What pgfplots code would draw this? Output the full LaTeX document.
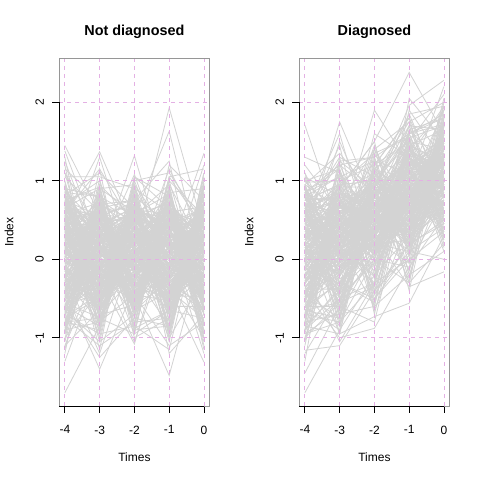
\documentclass[border=0pt]{standalone}
\usepackage{fontspec}
\setmainfont{Liberation Sans}
\usepackage{pgfplots}
\usepackage{pgfplotstable}
\pgfplotsset{compat=1.18}
\definecolor{gridc}{RGB}{228,176,228}
\definecolor{boxc}{RGB}{150,150,150}
\definecolor{linec}{RGB}{211,211,211}

\pgfplotstableread[header=false]{
0.12 -0.35 0.41 -0.08 0.27
-0.44 0.18 -0.22 0.53 -0.10
0.65 0.02 0.31 -0.40 0.48
-0.15 -0.62 0.07 0.22 -0.33
0.33 0.47 -0.51 0.05 0.71
-0.71 0.25 0.14 -0.28 -0.05
0.08 -0.12 0.66 0.38 -0.54
0.52 -0.41 -0.19 0.74 0.16
-0.27 0.61 0.28 -0.63 0.39
0.21 0.09 -0.44 0.17 -0.22
-0.58 -0.23 0.52 0.01 0.60
0.79 0.36 -0.07 -0.14 -0.41
-0.09 -0.77 0.19 0.46 0.08
0.43 0.54 0.73 -0.35 0.25
-0.36 0.11 -0.61 0.29 -0.69
0.17 -0.48 0.03 0.62 0.44
0.58 0.72 0.37 -0.52 -0.17
-0.80 -0.05 -0.30 0.11 0.32
0.26 0.29 0.58 0.83 -0.28
-0.03 -0.33 -0.12 -0.21 0.55
0.91 0.14 0.21 0.35 0.03
-0.49 0.68 -0.38 -0.46 -0.48
0.38 -0.17 0.48 0.13 0.76
0.04 -0.55 -0.02 -0.70 0.19
-0.62 0.40 0.61 0.52 -0.36
0.71 -0.29 -0.25 0.27 0.41
-0.20 0.83 0.12 -0.09 -0.12
0.48 -0.09 -0.73 0.60 0.67
-0.33 0.22 0.44 -0.32 -0.58
0.15 -0.68 0.27 0.41 0.10
1.45 0.57 -0.14 0.06 0.29
-1.70 -0.85 0.09 -0.44 -0.25
0.55 1.37 0.35 0.19 -0.07
-0.41 -1.40 -0.36 0.31 0.22
0.29 0.05 1.32 -0.18 0.50
0.07 -0.24 -1.08 0.47 -0.30
-0.11 0.48 0.16 1.93 0.37
0.36 -0.37 0.55 1.63 -0.15
0.62 0.13 -0.47 -1.48 0.14
-0.25 0.31 0.23 0.08 1.35
0.19 -0.46 0.04 -0.37 -1.31
1.38 0.20 0.62 -0.25 0.06
-1.30 -0.10 -0.52 0.58 -0.44
1.25 0.10 1.08 -0.15 1.20
-1.10 -0.05 -1.05 0.20 -1.20
0.05 1.30 -0.10 1.15 0.30
-0.20 -1.20 0.15 -1.00 -0.25
0.95 -0.15 0.78 -0.60 0.85
-0.87 0.66 -0.81 0.70 -0.79
0.46 -0.82 0.86 -0.77 0.90
0.24 0.19 -0.56 -0.11 0.58
-0.52 -0.14 0.34 0.57 -0.03
0.11 0.63 -0.10 -0.26 -0.63
0.67 -0.31 0.70 0.33 0.28
-0.06 0.37 -0.28 -0.54 0.13
0.40 -0.58 0.17 0.79 -0.39
-0.39 0.08 0.51 0.04 0.46
0.03 0.55 -0.65 -0.41 -0.20
0.57 -0.20 0.24 0.48 0.64
-0.74 -0.43 -0.06 -0.16 0.05
0.30 0.76 0.45 0.66 -0.50
-0.18 0.03 -0.33 -0.04 0.35
0.81 -0.61 0.10 0.21 -0.11
-0.30 0.42 0.67 -0.67 0.73
0.14 -0.11 -0.42 0.39 -0.27
0.49 0.27 0.29 -0.23 0.18
-0.56 -0.74 0.06 0.55 -0.45
0.22 0.50 -0.18 0.14 0.52
-0.12 -0.26 0.59 -0.49 0.00
0.63 0.16 -0.54 0.29 -0.62
-0.45 0.59 0.20 0.71 0.24
0.09 -0.39 0.39 -0.06 0.61
0.74 0.00 -0.23 -0.30 -0.34
-0.23 -0.52 0.80 0.45 0.15
0.35 0.34 -0.04 -0.59 -0.08
-0.67 -0.07 0.47 0.18 0.43
0.18 0.70 -0.63 0.51 -0.52
0.54 -0.28 0.13 -0.12 0.33
-0.01 0.23 0.32 0.37 -0.16
-0.34 -0.64 -0.15 -0.43 0.69
0.45 0.44 0.57 0.02 0.09
-0.60 0.12 -0.09 0.63 -0.37
0.27 -0.15 0.42 -0.27 0.56
0.69 0.51 -0.35 0.23 -0.23
-0.14 -0.34 0.08 -0.51 0.26
0.01 0.64 0.64 0.40 -0.60
0.39 -0.49 -0.21 0.09 0.40
-0.47 0.20 0.36 -0.34 0.11
0.60 -0.03 -0.49 0.67 -0.04
-0.08 0.39 0.25 -0.19 0.49
0.16 -0.71 -0.58 0.26 -0.29
-0.70 0.15 0.15 -0.63 0.21
0.50 0.58 0.50 0.44 0.63
-0.26 -0.19 -0.27 0.12 -0.42
0.32 0.32 0.01 -0.45 0.30
0.86 -0.44 0.69 0.32 -0.09
-0.38 0.49 -0.40 -0.08 0.57
0.06 -0.08 0.22 0.58 -0.55
0.42 0.26 -0.67 -0.22 0.17
-0.19 -0.57 0.33 0.16 0.38
-0.90 0.07 0.49 -0.39 -0.18
0.23 0.78 -0.31 0.74 0.04
0.61 -0.25 0.05 -0.57 0.45
-0.53 0.35 0.60 0.20 -0.67
0.13 -0.36 -0.16 0.50 0.20
0.76 0.10 0.38 -0.14 0.62
-0.28 -0.79 -0.45 0.34 -0.14
0.37 0.45 0.18 -0.62 0.32
-0.04 -0.13 0.75 0.10 -0.46
0.51 0.62 -0.08 -0.29 0.12
-0.64 -0.30 0.26 0.59 0.47
0.20 0.21 -0.57 0.03 -0.33
-0.16 0.53 0.46 -0.40 0.07
0.44 -0.54 -0.03 0.43 -0.21
0.02 0.04 0.30 -0.05 0.66
-0.43 0.67 -0.37 0.28 -0.06
0.68 -0.18 0.54 -0.25 0.27
-0.10 0.30 -0.11 0.69 -0.40
0.28 -0.40 0.11 -0.53 0.53
-0.78 0.00 0.71 0.15 0.02
0.98 -0.30 0.20 0.85 -0.45
-0.95 0.88 -0.20 -0.85 0.80
0.20 -0.92 0.95 0.30 -0.90
-0.30 0.20 -0.95 0.95 0.10
0.10 -0.10 0.30 -0.95 0.97
1.05 0.60 -0.70 0.40 -0.80
-1.02 0.95 0.50 -0.70 0.60
0.40 -1.00 0.90 0.60 -1.00
0.70 0.30 -0.85 1.05 0.40
-0.60 0.80 0.55 -1.05 0.92
1.10 -0.50 0.00 0.20 -0.70
-0.85 1.02 -0.60 0.45 0.20
0.30 -0.85 0.85 -0.80 1.05
0.88 0.40 -0.30 0.88 -0.95
-0.70 -0.95 1.00 -0.10 0.30
-0.22 0.41 -0.05 0.36 -0.19
0.47 -0.06 0.29 -0.48 0.35
-0.05 0.26 -0.47 0.12 0.44
0.34 -0.44 0.56 -0.20 -0.26
-0.61 0.06 0.11 0.49 0.15
0.25 0.49 -0.24 -0.07 -0.48
0.72 -0.21 0.40 0.30 0.09
-0.31 -0.60 -0.08 -0.38 0.58
0.10 0.33 0.63 0.58 -0.31
0.56 0.07 -0.36 -0.16 0.21
-0.46 -0.30 0.23 0.24 -0.13
0.18 0.65 0.02 -0.55 0.50
-0.13 -0.16 0.49 0.41 -0.56
0.64 0.17 -0.60 0.07 0.28
0.00 -0.49 0.15 -0.28 0.07
-0.68 0.52 0.32 0.63 -0.35
0.31 -0.02 -0.15 -0.11 0.62
0.83 -0.35 0.61 0.19 -0.02
-0.24 0.24 -0.29 -0.44 0.39
0.41 -0.67 0.09 0.52 0.17
-0.10 0.38 0.44 -0.02 -0.44
0.53 0.01 -0.52 0.35 0.49
-0.40 -0.10 0.06 -0.60 -0.21
0.16 0.58 0.68 0.15 0.31
-0.57 -0.45 -0.20 0.45 0.13
0.27 0.12 0.36 -0.34 -0.65
0.69 0.46 -0.10 0.28 0.42
-0.16 -0.27 0.25 0.68 -0.08
0.05 0.71 -0.41 -0.17 0.56
0.48 -0.52 0.53 0.04 -0.27
-0.35 0.16 -0.66 0.39 0.24
0.22 -0.13 0.12 -0.47 0.04
-0.73 0.34 0.47 0.21 0.60
0.37 -0.38 -0.26 0.55 -0.38
0.78 0.27 0.19 -0.29 0.18
-0.07 -0.58 0.71 0.10 -0.50
0.12 0.44 -0.14 0.46 0.35
-0.50 0.02 0.33 -0.08 -0.17
0.59 0.61 -0.45 -0.53 0.67
-0.19 -0.22 0.04 0.32 0.00
0.43 0.19 0.57 0.71 -0.43
-0.28 0.75 -0.18 -0.36 0.27
0.04 -0.32 0.39 0.18 0.46
0.66 -0.04 -0.31 -0.14 -0.10
-0.63 0.29 0.21 0.54 0.12
0.21 -0.63 0.67 -0.24 0.52
-0.02 0.53 -0.53 0.27 -0.59
0.50 -0.12 0.14 0.63 0.21
-0.37 -0.40 0.42 -0.42 0.38
0.14 0.37 -0.02 0.09 -0.24
0.74 0.08 0.28 -0.58 0.07
-0.44 0.63 -0.38 0.37 0.55
0.29 -0.26 0.52 0.02 -0.33
-0.12 0.14 0.00 -0.23 0.19
0.35 -0.70 -0.23 0.48 0.41
-0.82 0.20 0.55 -0.12 -0.05
0.60 0.47 0.09 0.22 0.63
-0.20 -0.09 -0.48 0.66 -0.40
0.08 0.31 0.35 -0.39 0.25
0.45 -0.45 0.63 0.13 -0.15
-0.54 0.56 -0.11 -0.06 0.48
0.19 0.04 0.18 0.57 -0.62
0.62 -0.18 -0.58 -0.31 0.10
-0.27 -0.53 0.30 0.42 0.32
0.02 0.69 0.50 0.00 -0.29
0.38 -0.31 -0.19 -0.50 0.57
-0.48 0.10 0.59 0.30 0.03
0.70 0.40 -0.34 0.06 -0.47
-0.09 -0.66 0.10 0.61 0.34
0.26 0.24 0.45 -0.20 0.14
-0.66 -0.15 -0.04 0.25 -0.22
0.53 0.60 0.24 -0.45 0.59
-0.14 -0.01 -0.62 0.50 0.06
0.32 -0.47 0.41 0.08 -0.36
0.87 0.22 0.06 -0.27 0.44
-0.41 0.46 0.65 0.44 -0.11
0.09 -0.24 -0.28 -0.63 0.28
0.46 0.13 0.20 0.34 0.70
-0.32 -0.56 0.52 -0.10 -0.53
0.17 0.50 -0.44 0.72 0.23
0.58 -0.08 0.37 -0.35 -0.07
-0.59 0.28 -0.14 0.14 0.50
0.24 -0.36 0.58 0.47 -0.26
-0.05 0.66 -0.30 -0.52 0.16
0.40 0.03 0.13 0.26 0.64
-0.75 -0.49 0.26 -0.15 -0.41
0.65 0.35 -0.55 0.59 0.11
-0.18 -0.20 0.70 0.05 0.37
0.11 0.57 -0.07 -0.41 -0.16
0.51 -0.59 0.31 0.39 0.53
-0.92 0.85 -0.75 0.80 -0.65
0.93 -0.88 0.82 -0.90 0.75
-0.80 -0.90 0.90 0.15 -0.95
0.75 0.92 -0.88 -0.65 0.85
0.60 -0.75 -0.95 0.90 -0.85
-0.95 0.70 0.75 -0.92 0.65
1.00 -0.65 0.30 0.70 -1.10
-1.05 0.55 -0.80 -0.75 0.95
0.82 1.10 0.65 -0.40 -0.75
-0.65 -1.05 -0.70 0.85 0.90
1.15 0.75 -0.40 1.00 0.55
-0.90 -0.80 0.95 -1.20 -0.70
0.55 -1.15 1.05 0.80 -0.85
0.85 0.80 -0.90 -0.85 1.10
-1.20 0.90 0.60 -0.30 -1.00
0.95 -0.70 0.60 -0.85 0.70
-0.85 0.75 -0.70 0.90 -0.60
0.70 1.00 -0.55 0.55 -0.90
-0.60 -0.85 0.80 -0.70 0.95
1.10 0.35 -0.85 1.00 -0.50
-1.00 -0.40 0.95 -0.55 0.80
0.60 1.15 0.40 -0.90 1.10
-0.75 -1.10 -0.80 0.70 -1.05
0.85 -0.60 1.00 1.10 0.45
-0.95 0.85 -0.45 -1.10 -0.80
1.20 -0.90 0.70 -0.50 0.90
-0.65 0.95 -0.90 0.85 -1.15
0.50 -1.05 0.85 -0.95 0.60
-1.15 0.65 0.75 1.25 -0.70
0.90 0.80 -1.00 -0.75 1.00
-0.80 -0.75 0.55 0.95 -0.95
1.05 1.05 0.90 -0.60 -0.60
-0.55 -1.25 -0.75 -0.85 0.85
0.75 0.55 -0.65 1.20 0.75
-1.10 -0.65 1.05 0.65 -0.85
0.65 0.90 0.95 -1.00 0.95
-0.90 1.15 -0.95 -0.65 -0.75
1.30 -0.80 0.50 0.75 -1.00
-0.70 0.70 -0.60 1.05 1.15
0.80 -0.95 -0.85 -1.15 0.65
}\Lrows

\pgfplotstableread[header=false]{
0.20 0.45 0.30 0.95 1.10
-0.30 0.10 0.62 0.55 1.35
0.55 0.28 0.80 1.05 0.82
0.05 -0.20 0.35 0.40 1.20
0.42 0.70 0.15 0.88 0.65
-0.48 0.35 0.52 1.20 1.05
0.30 -0.05 0.90 0.62 1.48
0.68 0.55 0.22 0.35 0.90
-0.15 0.20 0.48 0.98 0.72
0.12 0.62 0.05 0.70 1.28
0.80 0.15 0.68 1.32 1.15
-0.05 -0.38 0.40 0.50 0.58
0.38 0.48 1.02 0.85 1.40
-0.62 0.05 0.18 0.25 0.95
0.25 0.85 0.58 1.10 0.78
0.48 0.00 -0.10 0.75 1.62
-0.22 0.40 0.75 0.42 0.88
0.62 0.75 0.32 1.45 1.25
0.08 -0.12 0.60 0.18 0.50
-0.38 0.30 0.10 0.90 1.02
0.72 0.58 0.88 0.60 1.55
0.15 0.22 0.28 1.25 0.68
-0.10 -0.48 -0.05 0.55 1.12
0.45 0.92 0.70 0.30 0.85
0.00 0.12 0.45 1.00 1.38
0.90 0.38 0.15 0.80 0.92
-0.55 -0.22 0.65 0.68 0.40
0.35 0.65 0.95 1.55 1.70
0.18 0.08 0.38 0.12 0.98
-0.28 0.50 0.20 0.92 1.18
1.71 0.40 0.60 0.70 1.00
-1.45 -0.60 0.10 0.45 0.80
-1.70 -0.90 -0.20 0.30 0.60
-1.16 -1.10 -0.40 0.20 0.95
0.30 1.75 0.70 1.10 1.20
0.10 1.50 0.50 0.60 1.40
-0.40 -1.00 -0.88 -0.10 0.55
0.50 0.40 1.90 1.20 1.50
0.20 -0.95 -0.73 -0.56 0.30
0.60 0.90 1.50 2.38 1.60
0.00 0.30 0.90 1.96 2.28
-0.30 0.20 0.30 -0.35 -0.16
0.40 0.10 1.40 1.75 2.00
-0.60 -0.30 -0.50 0.10 0.00
0.95 1.35 0.80 1.30 1.95
-0.80 -0.70 -0.60 -0.20 0.10
0.85 1.20 1.30 1.60 1.85
-0.90 -0.50 0.00 -0.30 0.20
0.98 1.00 1.20 1.50 2.10
-0.70 -0.80 -0.30 0.00 0.35
0.28 0.52 0.55 0.58 1.08
-0.18 0.18 0.85 1.15 0.62
0.60 -0.08 0.25 0.78 1.32
0.02 0.70 0.42 0.38 0.76
-0.42 0.25 0.02 1.02 1.45
0.50 0.44 0.78 0.48 0.88
0.10 -0.30 0.35 1.30 1.00
0.75 0.80 0.50 0.65 1.58
-0.25 0.00 0.72 0.22 0.70
0.32 0.35 -0.15 0.85 1.22
-0.08 0.60 0.60 1.10 0.55
0.55 0.10 0.98 0.52 1.10
-0.50 -0.15 0.30 0.72 1.30
0.22 0.78 0.12 1.38 0.95
0.65 0.25 0.55 0.28 1.75
-0.12 0.42 0.82 0.95 0.80
0.40 -0.25 0.08 0.60 1.15
0.05 0.55 0.62 1.20 0.45
-0.35 0.15 0.40 0.45 1.05
0.82 0.65 0.92 0.82 1.42
0.15 -0.10 0.20 1.05 0.90
-0.20 0.32 0.48 0.35 1.25
0.48 0.90 0.35 0.90 0.60
0.00 0.05 1.10 0.70 1.50
0.35 0.45 0.00 1.28 0.98
-0.45 0.68 0.58 0.15 1.18
0.58 0.20 0.70 0.98 0.70
0.10 -0.40 0.45 0.62 1.60
-0.28 0.38 0.28 1.42 0.85
0.70 0.58 0.85 0.40 1.30
0.20 0.15 -0.22 0.88 1.08
-0.05 0.82 0.68 0.58 0.50
0.45 0.28 0.38 1.18 1.35
-0.60 -0.05 0.52 0.80 0.88
0.30 0.50 1.05 0.32 1.12
0.88 0.02 0.18 1.00 1.50
-0.15 0.62 0.62 0.68 0.75
0.15 0.30 0.30 1.35 1.02
0.52 -0.18 0.80 0.55 1.68
-0.32 0.45 0.10 0.92 0.92
0.08 0.72 0.50 0.22 1.28
0.62 0.10 0.95 1.12 0.68
-0.02 -0.32 0.25 0.75 1.22
0.40 0.60 0.65 1.50 0.95
-0.52 0.22 0.40 0.48 1.40
0.25 0.85 0.05 0.85 1.05
0.70 0.35 0.75 0.62 0.82
-0.18 -0.02 0.55 1.22 1.55
0.38 0.48 0.22 0.38 1.00
0.02 0.18 0.88 0.95 0.62
0.95 0.65 0.60 1.15 1.45
-0.68 0.40 0.15 0.65 1.15
0.18 -0.55 0.48 0.85 0.72
0.58 0.95 1.00 0.25 1.30
-0.25 0.12 -0.30 1.08 0.88
0.32 0.58 0.70 0.50 1.78
0.00 0.25 0.35 1.40 1.10
-0.40 -0.20 0.80 0.72 0.58
0.78 0.75 0.20 0.92 1.25
0.12 0.00 0.58 0.05 0.95
1.00 0.55 1.25 1.10 1.60
-0.85 -0.40 0.05 0.50 0.65
0.20 1.10 0.40 1.65 1.20
-0.45 -0.75 0.60 0.30 1.45
0.65 0.20 1.15 0.85 0.40
-1.00 0.30 -0.35 0.80 1.30
0.90 -0.40 0.80 1.40 1.90
-0.75 0.75 0.25 -0.05 0.75
0.40 -0.60 1.35 0.60 1.55
-0.95 0.60 -0.45 1.20 0.30
0.85 1.05 0.20 0.10 1.80
-0.65 -0.55 1.20 1.80 0.90
0.75 0.95 -0.55 0.95 0.25
-0.35 -0.85 0.70 1.70 1.65
0.55 1.25 0.90 -0.15 1.40
0.92 0.20 -0.60 1.35 0.45
-0.80 0.85 1.10 0.40 1.95
0.30 -0.70 0.10 1.55 0.20
-0.55 1.00 0.65 1.60 1.72
0.68 -0.45 1.00 0.20 1.85
0.35 0.20 0.60 0.75 1.25
-0.20 0.48 0.30 1.05 0.88
0.58 0.05 0.72 0.48 1.42
0.10 0.62 0.10 0.92 0.70
-0.40 -0.12 0.55 0.58 1.15
0.45 0.40 0.85 1.25 0.95
0.02 0.75 0.22 0.40 1.30
0.70 -0.22 0.45 1.00 1.05
-0.15 0.30 1.00 0.65 0.62
0.28 0.55 0.05 1.18 1.48
-0.58 0.12 0.40 0.80 1.00
0.52 0.68 0.62 0.30 0.80
0.12 -0.35 0.25 1.35 1.20
-0.30 0.38 0.78 0.70 1.62
0.65 0.85 0.35 0.55 0.92
0.22 0.08 -0.05 0.98 1.10
-0.08 0.50 0.95 0.25 0.75
0.40 -0.08 0.50 1.15 1.38
-0.48 0.70 0.18 0.85 1.05
0.78 0.30 0.68 0.60 0.58
0.05 -0.45 0.38 0.45 1.28
0.30 0.92 0.92 1.42 0.98
-0.22 0.18 0.12 0.68 1.52
0.55 0.48 0.58 0.92 0.68
-0.65 -0.28 0.28 1.10 1.18
0.18 0.60 1.08 0.35 0.85
0.85 0.10 0.20 0.78 1.35
-0.10 0.80 0.48 1.28 1.00
0.38 -0.15 0.70 0.52 1.65
0.00 0.42 0.00 0.95 0.82
-0.35 0.02 0.65 0.72 1.22
0.62 0.72 0.42 1.05 1.08
0.15 0.25 0.88 0.18 0.72
-0.52 0.55 0.32 0.90 1.45
0.48 -0.30 0.15 1.22 0.92
0.25 0.35 0.75 0.62 1.30
-0.05 0.88 0.55 0.42 1.12
0.72 0.15 -0.08 0.98 0.78
-0.28 -0.05 0.45 1.50 1.40
0.42 0.65 0.98 0.75 0.95
0.08 0.22 0.30 0.32 1.58
-0.45 0.45 0.68 1.12 0.65
0.60 -0.50 0.40 0.85 1.20
-0.12 0.58 0.10 0.55 1.02
0.32 0.10 0.82 1.30 0.88
0.75 0.78 0.25 0.70 1.48
-0.62 0.28 0.58 0.48 0.98
0.20 -0.20 0.35 1.02 1.25
0.50 0.52 1.12 0.88 0.72
-0.18 0.00 0.20 0.60 1.35
0.88 0.40 0.62 1.38 1.15
0.00 0.95 0.40 0.28 0.92
-0.38 -0.38 0.90 0.82 1.60
0.45 0.32 0.08 1.08 1.05
0.12 0.68 0.52 0.50 0.60
-0.70 0.15 -0.20 0.95 1.28
0.68 -0.10 0.78 0.65 1.42
-0.02 0.50 0.35 1.25 0.80
0.30 0.20 0.60 0.38 1.18
-0.25 0.75 0.95 0.80 1.52
0.58 0.05 0.28 1.18 0.95
0.15 -0.42 0.72 0.58 1.08
-0.55 0.40 0.45 1.00 1.32
0.40 0.62 0.15 0.72 0.68
0.05 0.28 1.05 1.45 1.22
0.80 -0.02 0.50 0.45 1.70
-0.32 0.55 0.22 0.90 0.98
0.25 0.85 0.68 1.15 1.10
-0.08 -0.15 0.38 0.35 0.85
0.52 0.42 0.85 0.98 1.45
1.20 0.60 0.95 1.20 1.50
-1.20 -0.45 0.20 0.60 1.10
1.05 -0.20 0.40 1.60 0.60
-1.05 0.75 -0.65 0.50 1.70
0.90 -0.75 1.25 0.05 1.35
-0.85 1.20 0.30 1.50 0.30
0.70 -0.95 0.85 -0.30 1.75
-0.75 1.30 -0.70 1.10 0.50
1.10 0.20 1.45 0.30 2.05
-0.95 -0.65 0.90 1.85 0.80
0.50 1.45 -0.40 0.90 1.90
-0.60 -0.90 1.30 -0.40 1.60
0.95 0.00 1.60 1.30 0.10
-1.30 1.10 0.00 1.90 1.25
0.80 -0.60 -0.80 1.00 2.20
-0.50 0.90 1.50 -0.20 1.00
1.30 1.10 0.50 1.70 0.55
-0.90 -0.35 1.40 0.70 1.95
0.60 1.60 0.10 1.45 0.15
-0.20 -1.05 -0.30 2.05 1.50
0.95 -0.40 1.15 0.10 1.70
-0.75 1.00 -0.25 1.45 0.45
0.85 -0.65 0.95 1.60 0.35
-0.90 0.95 -0.40 0.05 1.75
1.00 1.15 -0.10 1.50 0.40
-0.65 -0.75 1.20 -0.05 1.60
0.80 1.05 1.25 0.15 1.85
-1.00 -0.55 -0.35 1.40 0.50
0.90 -0.70 1.10 1.75 0.60
-0.80 1.10 -0.45 0.20 1.90
0.75 0.95 1.35 1.55 0.25
-0.95 -0.80 0.00 -0.10 1.50
1.10 -0.30 -0.55 1.65 1.80
-0.70 1.25 1.30 0.10 0.40
0.70 -0.85 0.90 1.85 1.95
-1.10 0.90 -0.60 1.30 0.55
0.60 1.30 1.05 -0.25 1.70
-0.85 -0.95 1.15 1.50 0.35
1.05 0.80 -0.50 0.00 2.00
-0.60 -0.60 0.95 1.70 0.50
0.85 1.15 -0.20 1.60 1.80
-0.90 0.70 1.40 0.20 0.45
0.95 -0.50 -0.30 1.45 1.65
-0.75 1.20 0.85 -0.30 1.75
0.65 -0.80 1.20 1.80 0.30
}\Rrows

\pgfplotstabletranspose{\Lcols}{\Lrows}
\pgfplotstabletranspose{\Rcols}{\Rrows}
\pgfplotstablegetrowsof{\Lrows}\edef\NL{\pgfplotsretval}
\pgfplotstablegetrowsof{\Rrows}\edef\NR{\pgfplotsretval}

\pgfplotsset{
  spag/.style={
    scale only axis, width=150.2bp, height=347.7bp,
    xmin=-4.16, xmax=0.16, ymin=-1.869, ymax=2.56,
    xtick={-4,-3,-2,-1,0}, xticklabels={-4,-3,-2,-1,0},
    ytick={-1,0,1,2}, yticklabels={-1,0,1,2},
    tick pos=left, tick align=outside, major tick length=7bp,
    every tick/.style={black, line width=0.75bp},
    axis line style={draw=boxc, line width=0.9bp},
    grid=major,
    grid style={gridc, dash pattern=on 4bp off 4bp, line width=0.8bp},
    axis on top,
    tick label style={font=\fontsize{12bp}{14bp}\selectfont, inner sep=0pt},
    xticklabel style={anchor=north, yshift=-12.5bp},
    yticklabel style={rotate=90, anchor=south, yshift=8.3bp},
    every axis title/.style={at={(axis description cs:0.5,1.065)}, anchor=base,
      font=\bfseries\fontsize{14.4bp}{17bp}\selectfont},
    every axis x label/.style={at={(axis description cs:0.5,-0.160)}, anchor=base,
      font=\fontsize{12bp}{14bp}\selectfont},
    every axis y label/.style={at={(axis description cs:-0.306,0.5)}, rotate=90, anchor=base,
      font=\fontsize{12bp}{14bp}\selectfont},
    xlabel={Times}, ylabel={Index},
  },
  spagline/.style={linec, line width=0.8bp, mark=none, forget plot},
}

\begin{document}
\begin{tikzpicture}[x=1bp,y=1bp]
\fill[white] (0,0) rectangle (480,480);
\path[use as bounding box] (0,0) rectangle (480,480);

\begin{axis}[spag, at={(59.3bp,74bp)}, anchor=south west, title={Not diagnosed}]
\pgfplotsinvokeforeach{1,...,\NL}{
  \addplot[spagline] table[x expr=\coordindex-4, y index=#1]{\Lcols};
}
\coordinate (L00) at (axis cs:-4.16,-1.869);
\coordinate (L01) at (axis cs:0,-1.869);
\coordinate (L10) at (axis cs:-4.16,-1);
\coordinate (L11) at (axis cs:-4.16,2);
\end{axis}
\draw[black, line width=0.9bp] (L00) -- (L01);
\draw[black, line width=0.9bp] (L10) -- (L11);

\begin{axis}[spag, at={(299.3bp,74bp)}, anchor=south west, title={Diagnosed}]
\pgfplotsinvokeforeach{1,...,\NR}{
  \addplot[spagline] table[x expr=\coordindex-4, y index=#1]{\Rcols};
}
\coordinate (R00) at (axis cs:-4.16,-1.869);
\coordinate (R01) at (axis cs:0,-1.869);
\coordinate (R10) at (axis cs:-4.16,-1);
\coordinate (R11) at (axis cs:-4.16,2);
\end{axis}
\draw[black, line width=0.9bp] (R00) -- (R01);
\draw[black, line width=0.9bp] (R10) -- (R11);
\end{tikzpicture}
\end{document}
